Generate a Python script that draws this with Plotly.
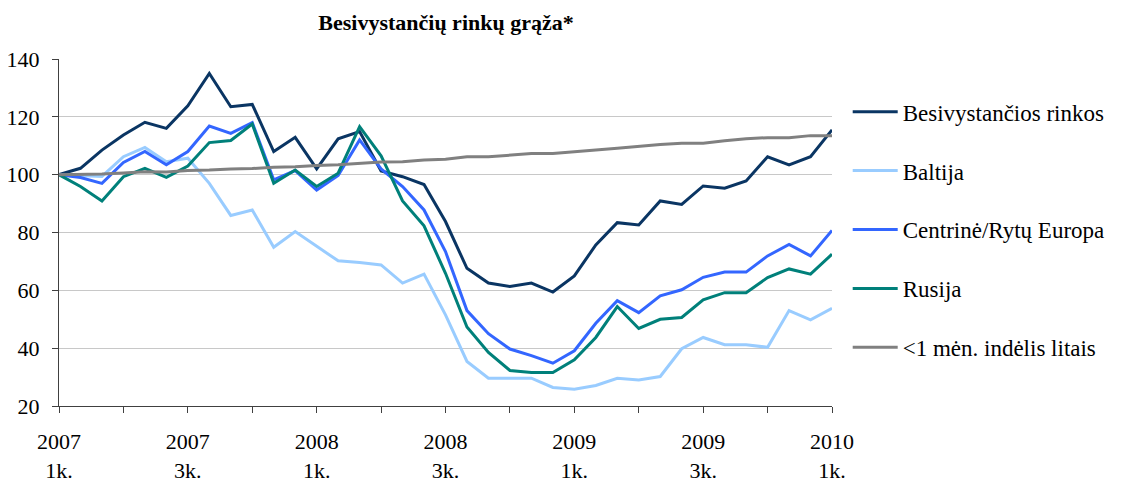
import plotly.graph_objects as go

months = list(range(37))
tick_vals = list(range(0, 37, 3))
tick_labels = ["2007<br>1k.", "2007<br>3k.", "2008<br>1k.", "2008<br>3k.",
               "2009<br>1k.", "2009<br>3k.", "2010<br>1k."]
tick_text = [tick_labels[i // 2] if i % 2 == 0 else "" for i in range(13)]

besivystancios = [100, 102.2, 108.5, 113.7, 118.1, 116.0, 123.8, 135.0, 123.5, 124.3,
                  108.0, 112.9, 102.0, 112.4, 114.9, 101.3, 99.3, 96.6, 83.8,
                  67.6, 62.5, 61.3, 62.5, 59.4, 65.0, 75.7, 83.4, 82.6, 90.9,
                  89.7, 96.1, 95.3, 97.8, 106.2, 103.4, 106.2, 115.5]
baltija = [100, 99.6, 99.4, 106.2, 109.4, 104.5, 105.7, 97.0, 85.9, 87.8,
           74.9, 80.3, 75.1, 70.2, 69.6, 68.8, 62.5, 65.6, 51.5,
           35.4, 29.6, 29.6, 29.6, 26.4, 25.8, 27.1, 29.6, 29.0, 30.2,
           39.8, 43.7, 41.2, 41.2, 40.3, 53.0, 49.8, 53.8]
centrine = [100, 99.0, 97.0, 104.2, 108.0, 103.4, 108.0, 116.8, 114.3, 118.0,
            98.2, 101.4, 94.7, 99.7, 112.0, 102.0, 95.9, 87.8, 73.4,
            53.0, 45.0, 39.7, 37.4, 34.8, 39.1, 48.6, 56.4, 52.3, 58.1,
            60.2, 64.5, 66.3, 66.3, 71.9, 75.9, 71.9, 80.7]
rusija = [100, 95.9, 90.9, 99.3, 102.2, 99.1, 103.0, 111.1, 111.8, 117.5,
          97.0, 101.6, 95.9, 100.5, 116.6, 106.5, 90.9, 82.3, 65.9,
          47.3, 38.5, 32.3, 31.6, 31.6, 36.0, 43.7, 54.4, 46.8, 50.0,
          50.6, 56.7, 59.2, 59.2, 64.4, 67.4, 65.6, 72.5]
indelis = [100, 100, 100.2, 100.6, 101.0, 100.9, 101.4, 101.6, 102.0, 102.1,
           102.6, 102.7, 103.2, 103.4, 103.9, 104.4, 104.5, 105.1, 105.3,
           106.2, 106.2, 106.7, 107.3, 107.3, 108.0, 108.5, 109.1, 109.8, 110.4,
           110.9, 110.9, 111.7, 112.4, 112.8, 112.8, 113.5, 113.5]

series = [
    ("Besivystančios rinkos", besivystancios, "#0a3563"),
    ("Baltija", baltija, "#99ccff"),
    ("Centrinė/Rytų Europa", centrine, "#3366ff"),
    ("Rusija", rusija, "#00807a"),
    ("<1 mėn. indėlis litais", indelis, "#808080"),
]

serif = "Liberation Serif"

fig = go.Figure()
for i, (name, vals, col) in enumerate(series):
    fig.add_trace(go.Scatter(x=months, y=vals, name=name, mode="lines",
                             line=dict(color=col, width=3),
                             legendgroup=str(i), legendrank=i + 1))

# page body has an 8px margin, so the figure is a bit smaller than the window
fig.update_layout(
    width=1113, height=476,
    margin=dict(l=51, r=288, t=51, b=78),
    paper_bgcolor="white", plot_bgcolor="white",
    font=dict(family=serif, size=22, color="#000000"),
    title=dict(text="<b>Besivystančių rinkų grąža*</b>", x=438 / 1113, xanchor="center",
               y=0.97, yanchor="middle", font=dict(family=serif, size=22)),
    legend=dict(x=1.019, xanchor="left", y=0.91, yanchor="top", itemwidth=45,
                tracegroupgap=26, font=dict(family=serif, size=23)),
    xaxis=dict(range=[0, 36], tickvals=tick_vals, ticktext=tick_text, automargin=False,
               showgrid=False, showline=True, linecolor="#404040", linewidth=1,
               ticks="outside", ticklen=6, tickcolor="#404040", zeroline=False,
               ticklabelstandoff=10, tickfont=dict(family=serif, size=22)),
    yaxis=dict(range=[20, 140], dtick=20, showgrid=True, gridcolor="#c8c8c8", automargin=False,
               showline=True, linecolor="#404040", linewidth=1,
               ticks="outside", ticklen=6, tickcolor="#404040", zeroline=False,
               ticklabelstandoff=8, tickfont=dict(family=serif, size=22)),
)

fig.write_html("out.html")
